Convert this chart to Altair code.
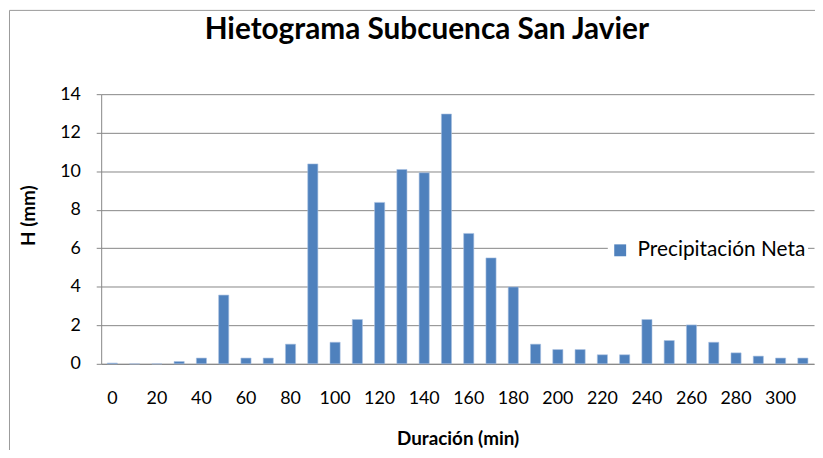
import altair as alt
import pandas as pd

duracion = [0, 10, 20, 30, 40, 50, 60, 70, 80, 90, 100, 110, 120, 130, 140, 150,
            160, 170, 180, 190, 200, 210, 220, 230, 240, 250, 260, 270, 280, 290, 300, 310]
precipitacion = [0.04, 0.0, 0.0, 0.12, 0.3, 3.57, 0.3, 0.3, 1.02, 10.38, 1.12, 2.3,
                 8.38, 10.09, 9.92, 12.97, 6.77, 5.5, 3.99, 1.02, 0.74, 0.74, 0.47, 0.47,
                 2.3, 1.21, 2.02, 1.12, 0.57, 0.4, 0.3, 0.3]
serie = "Precipitación Neta"
y_ticks = [0, 2, 4, 6, 8, 10, 12, 14]
x_labels = [0, 20, 40, 60, 80, 100, 120, 140, 160, 180, 200, 220, 240, 260, 280, 300]

df = pd.DataFrame({"Duración": duracion, "H": precipitacion, "Serie": [serie] * len(duracion)})

FONT = "Lato"
GRID = "#868686"
BLUE = "#4F81BD"

bars = alt.Chart(df).mark_bar(color=BLUE, stroke="#A9C1E0", strokeWidth=0.6).encode(
    x=alt.X("Duración:O",
            scale=alt.Scale(paddingInner=0.545, paddingOuter=0.2725),
            axis=alt.Axis(values=x_labels, labelAngle=0, ticks=False, tickSize=0,
                          labelPadding=26, title="Duración (min)", titlePadding=22,
                          titleFontSize=19, titleFontWeight="bold", labelFontSize=18,
                          grid=False, domainColor=GRID)),
    y=alt.Y("H:Q",
            scale=alt.Scale(domain=[0, 14], nice=False),
            axis=alt.Axis(values=y_ticks, title="H (mm)", titleFontSize=19,
                          titleFontWeight="bold", titlePadding=21, titleY=122,
                          labelFontSize=18, labelPadding=16, tickSize=5,
                          grid=True, gridColor=GRID, domainColor=GRID, tickColor=GRID)),
    color=alt.Color("Serie:N", scale=alt.Scale(range=[BLUE]),
                    legend=alt.Legend(title=None, orient="none", legendX=511, legendY=145,
                                      symbolType="square", symbolSize=144,
                                      symbolStrokeWidth=0, fillColor="white", padding=2,
                                      labelFont=FONT, labelFontSize=21, labelColor="black",
                                      labelOffset=7, labelLimit=400)),
)

frame_df = pd.DataFrame({"k": [0]})
frame_left = alt.Chart(frame_df).mark_rule(color="#9A9A9A", strokeWidth=1).encode(
    x=alt.value(-92.5), y=alt.value(-84.5), y2=alt.value(360))
frame_top = alt.Chart(frame_df).mark_rule(color="#9A9A9A", strokeWidth=1).encode(
    x=alt.value(-92.5), x2=alt.value(740), y=alt.value(-84.5))

chart = alt.layer(frame_left, frame_top, bars).properties(
    width=719,
    height=272,
    title=alt.Title("Hietograma Subcuenca San Javier", font=FONT, fontSize=30,
                    fontWeight="bold", color="black", anchor="middle", dx=-31,
                    baseline="alphabetic", offset=0, dy=59),
    autosize=alt.AutoSizeParams(type="none"),
    padding={"left": 94, "top": 85, "right": 1, "bottom": 85},
).configure_view(stroke=None).configure_axis(
    labelFont=FONT, titleFont=FONT, labelColor="black", titleColor="black"
)

chart.save("out.html", embed_options={"renderer": "svg", "actions": False})
